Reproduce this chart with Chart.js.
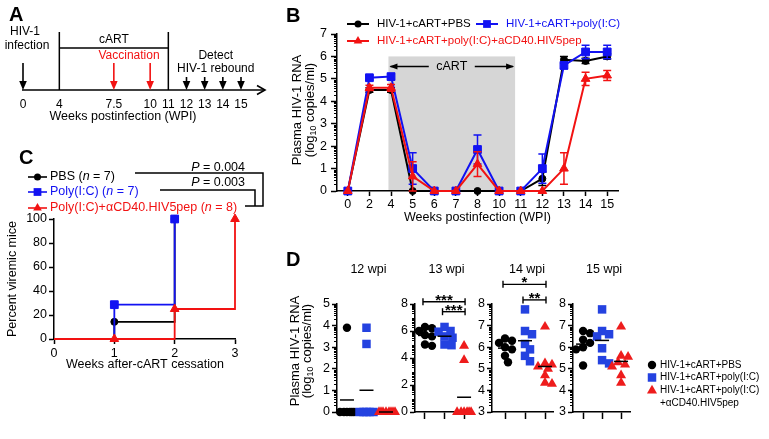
<!DOCTYPE html>
<html lang="en">
<head>
<meta charset="UTF-8" />
<title>HIV-1 rebound after cART</title>
<script src="https://cdn.jsdelivr.net/npm/chart.js"></script>
<style>
  body { margin: 0; background: #fff; }
  #stage { position: relative; width: 769px; height: 439px; overflow: hidden; background: #fff; }
  #stage canvas { position: absolute; left: 0; top: 0; }
</style>
</head>
<body>
<div id="stage">
  <canvas id="panelA" width="769" height="439"></canvas>
  <canvas id="panelB" width="769" height="439"></canvas>
  <canvas id="panelC" width="769" height="439"></canvas>
  <canvas id="panelD0" width="769" height="439"></canvas>
  <canvas id="panelD1" width="769" height="439"></canvas>
  <canvas id="panelD2" width="769" height="439"></canvas>
  <canvas id="panelD3" width="769" height="439"></canvas>
</div>
<script>
// ---- A: timeline (blank labels give the uneven spacing of the drawing)
const timelineTicks = ['0', '', '4', '', '', '7.5', '', '10', '11', '12', '13', '14', '15'];
const infectionWeek = '0';
const cartWeeks = ['4', '11'];
const vaccinationWeeks = ['7.5', '10'];
const detectWeeks = ['12', '13', '14', '15'];

// ---- B: plasma RNA (log10) by week, mean and SEM
const wpiLabels = ['0', '2', '4', '5', '6', '7', '8', '10', '11', '12', '13', '14', '15'];
const rnaPBS     = [0, 4.5, 4.5, 0, 0, 0, 0, 0, 0, 0.55, 5.85, 5.8, 6.0];
const rnaPBSErr  = [0, 0.1, 0.1, 0, 0, 0, 0, 0, 0, 0.3, 0.15, 0.12, 0.12];
const rnaPoly    = [0, 5.05, 5.1, 1.0, 0, 0, 1.85, 0, 0, 1.0, 5.6, 6.2, 6.2];
const rnaPolyErr = [0, 0.1, 0.12, 0.7, 0, 0, 0.65, 0, 0, 0.65, 0.15, 0.3, 0.3];
const rnaVacc    = [0, 4.6, 4.6, 0.65, 0, 0, 1.2, 0, 0, 0, 1.0, 5.0, 5.15];
const rnaVaccErr = [0, 0.12, 0.15, 0.65, 0, 0, 0.55, 0, 0, 0, 0.7, 0.3, 0.22];

// ---- C: percent viremic mice after cART stop
const afterWeeks = [0, 1, 2, 3];
const viremicPBS  = [0, 14.3, 100];
const viremicPoly = [0, 28.6, 100];
const viremicVacc = [0, 0, 25, 100];

// ---- D: individual mice, log10 copies/ml
const rna12PBS  = [3.9, 0, 0, 0, 0, 0, 0];
const rna12Poly = [3.9, 3.15, 0, 0, 0, 0, 0];
const rna12Vacc = [0, 0, 0, 0, 0, 0, 0, 0];
const rna13PBS  = [6.3, 6.2, 6.0, 5.7, 5.6, 5.0, 4.9];
const rna13Poly = [6.3, 6.0, 5.95, 5.6, 5.5, 5.0, 4.95];
const rna13Vacc = [4.9, 3.85, 0, 0, 0, 0, 0, 0];
const rna14PBS  = [6.4, 6.3, 6.2, 6.0, 5.9, 5.6, 5.3];
const rna14Poly = [7.75, 6.75, 6.6, 6.15, 5.9, 5.6, 5.35];
const rna14Vacc = [6.95, 5.25, 5.2, 5.1, 5.0, 4.7, 4.35, 4.3];
const rna15PBS  = [6.75, 6.65, 6.35, 6.2, 6.0, 5.9, 5.15];
const rna15Poly = [7.75, 6.75, 6.6, 6.5, 5.95, 5.4, 5.25];
const rna15Vacc = [6.95, 5.6, 5.55, 5.3, 5.2, 5.1, 4.7, 4.35];

const W = 769, H = 439;
const FONT = "'Liberation Sans', Arial, Helvetica, sans-serif";
const BLACK = '#000000', BLUE = '#1212f2', RED = '#f21212';
const DBLUE = '#2442e0', DRED = '#ee1c1c';

Chart.defaults.font.family = FONT;
Chart.defaults.font.size = 12;
Chart.defaults.color = '#000';
Chart.defaults.animation = false;

// fixed axis boxes so the plot areas land where the figure has them
// (tick labels are clipped to these boxes, so leave room for them)
const XH = 24, YW = 36;
const fitX = s => { s.height = XH; };
const fitY = s => { s.width = YW; };
function frame(left, top, right, bottom, yw = YW) {
	return { autoPadding: false, padding: { left: left - yw, top, right: W - right, bottom: H - bottom - XH } };
}
const quiet = { legend: { display: false }, tooltip: { enabled: false } };
const axisLine = { color: '#000', width: 1.5 };
const tickMarks = len => ({ drawOnChartArea: false, tickLength: len, tickColor: '#000', tickWidth: 1.5 });

function text(ctx, s, x, y, o = {}) {
	ctx.save();
	ctx.font = `${o.style || 'normal'} ${o.weight || 'normal'} ${o.size || 12}px ${FONT}`;
	ctx.fillStyle = o.color || '#000';
	ctx.textAlign = o.align || 'left';
	ctx.textBaseline = o.baseline || 'middle';
	ctx.translate(x, y);
	if (o.rot) ctx.rotate(o.rot);
	ctx.fillText(s, 0, 0);
	ctx.restore();
}

// several runs of text with their own style, one after another
function runs(ctx, parts, x, y, o = {}) {
	ctx.save();
	ctx.translate(x, y);
	if (o.rot) ctx.rotate(o.rot);
	ctx.textBaseline = 'middle';
	ctx.fillStyle = o.color || '#000';
	const fontOf = p => `${p.italic ? 'italic ' : ''}${p.size || o.size || 12}px ${FONT}`;
	let total = 0;
	parts.forEach(p => { ctx.font = fontOf(p); total += ctx.measureText(p.t).width; });
	let cx = o.align === 'center' ? -total / 2 : o.align === 'right' ? -total : 0;
	parts.forEach(p => {
		ctx.font = fontOf(p);
		ctx.fillText(p.t, cx, p.dy || 0);
		cx += ctx.measureText(p.t).width;
	});
	ctx.restore();
}

function marker(ctx, style, x, y, r, color) {
	ctx.save();
	ctx.fillStyle = color;
	ctx.beginPath();
	if (style === 'circle') ctx.arc(x, y, r, 0, Math.PI * 2);
	else if (style === 'rect') { const s = r * Math.SQRT1_2; ctx.rect(x - s, y - s, 2 * s, 2 * s); }
	else { ctx.moveTo(x, y - r); ctx.lineTo(x + r * 0.866, y + r / 2); ctx.lineTo(x - r * 0.866, y + r / 2); ctx.closePath(); }
	ctx.fill();
	ctx.restore();
}

function seg(ctx, pts, color = '#000', width = 1.5) {
	ctx.save();
	ctx.strokeStyle = color;
	ctx.lineWidth = width;
	ctx.beginPath();
	pts.forEach(([x, y], i) => (i ? ctx.lineTo(x, y) : ctx.moveTo(x, y)));
	ctx.stroke();
	ctx.restore();
}

function downArrow(ctx, x, y0, y1, color) {
	seg(ctx, [[x, y0], [x, y1 - 6]], color, 1.6);
	ctx.save();
	ctx.fillStyle = color;
	ctx.beginPath();
	ctx.moveTo(x, y1); ctx.lineTo(x - 3.8, y1 - 9); ctx.lineTo(x + 3.8, y1 - 9); ctx.closePath();
	ctx.fill();
	ctx.restore();
}

function panelLetter(ctx, s, x, y) {
	text(ctx, s, x, y, { size: 20, weight: 'bold', baseline: 'alphabetic' });
}

function rnaTitle(ctx, x1, x2, cy, size) {
	text(ctx, 'Plasma HIV-1 RNA', x1, cy, { rot: -Math.PI / 2, align: 'center', size });
	runs(ctx, [{ t: '(log' }, { t: '10', size: size * 0.68, dy: size * 0.3 }, { t: ' copies/ml)' }],
		x2, cy, { rot: -Math.PI / 2, align: 'center', size });
}

function logMinorTicks(chart, len) {
	const s = chart.scales.y, ctx = chart.ctx;
	const majors = s.ticks.map(t => t.value);
	ctx.save();
	ctx.strokeStyle = '#000';
	ctx.lineWidth = 1;
	ctx.beginPath();
	for (let i = Math.floor(s.min); i < s.max; i++) {
		for (let k = 1; k <= 9; k++) {
			const v = i + Math.log10(k);
			if (majors.includes(v)) continue;
			const y = Math.round(s.getPixelForValue(v)) + 0.5;
			ctx.moveTo(s.right - len, y);
			ctx.lineTo(s.right, y);
		}
	}
	ctx.stroke();
	ctx.restore();
}

// ================= A =================
const timelinePlugin = {
	id: 'timeline',
	afterDraw(chart) {
		const ctx = chart.ctx, x = chart.scales.x;
		const px = w => x.getPixelForValue(timelineTicks.indexOf(w));
		const base = chart.chartArea.bottom;
		panelLetter(ctx, 'A', 9, 21);
		// axis with open arrow head
		seg(ctx, [[px(infectionWeek) - 1, base], [265, base]], '#000', 1.6);
		seg(ctx, [[257, base - 4.5], [265, base], [257, base + 4.5]], '#000', 1.6);
		// infection
		downArrow(ctx, px(infectionWeek), 63, base, '#000');
		text(ctx, 'HIV-1', px(infectionWeek) + 2, 32, { align: 'center' });
		text(ctx, 'infection', px(infectionWeek) + 4, 46, { align: 'center' });
		// cART box
		const c0 = px(cartWeeks[0]), c1 = px(cartWeeks[1]);
		seg(ctx, [[c0, 32], [c0, base]]);
		seg(ctx, [[c1, 32], [c1, base]]);
		seg(ctx, [[c0, 48], [c1, 48]]);
		text(ctx, 'cART', (c0 + c1) / 2, 40, { align: 'center' });
		// vaccinations
		const v = vaccinationWeeks.map(px);
		v.forEach(xv => downArrow(ctx, xv, 63, base, RED));
		text(ctx, 'Vaccination', (v[0] + v[1]) / 2 - 3, 56, { align: 'center', color: RED });
		// rebound detection
		const d = detectWeeks.map(px);
		d.forEach(xd => downArrow(ctx, xd, 77, base, '#000'));
		const dm = (d[0] + d[d.length - 1]) / 2 + 2;
		text(ctx, 'Detect', dm, 56, { align: 'center' });
		text(ctx, 'HIV-1 rebound', dm, 69, { align: 'center' });
		text(ctx, 'Weeks postinfection (WPI)', 123, 117, { align: 'center', size: 12.5 });
	}
};

new Chart(document.getElementById('panelA'), {
	type: 'line',
	data: { labels: timelineTicks, datasets: [] },
	options: {
		responsive: false, events: [],
		layout: frame(23, 30, 241, 90, 0),
		plugins: quiet,
		scales: {
			x: {
				type: 'category', offset: false, afterFit: fitX,
				border: { display: false }, grid: { display: false, drawTicks: false },
				ticks: { autoSkip: false, maxRotation: 0, padding: 7, font: { size: 12 } }
			},
			y: { display: false, min: 0, max: 1 }
		}
	},
	plugins: [timelinePlugin]
});

// ================= B =================
const errorBars = {
	id: 'errorBars',
	beforeDatasetDraw(chart, args) {
		const ds = chart.data.datasets[args.index];
		if (!ds.err) return;
		const y = chart.scales.y, ctx = chart.ctx;
		ctx.save();
		ctx.strokeStyle = ds.borderColor;
		ctx.lineWidth = 1.5;
		ctx.beginPath();
		args.meta.data.forEach((pt, i) => {
			const e = ds.err[i];
			if (!e) return;
			const top = y.getPixelForValue(ds.data[i] + e);
			const bot = y.getPixelForValue(Math.max(0, ds.data[i] - e));
			ctx.moveTo(pt.x, top); ctx.lineTo(pt.x, bot);
			ctx.moveTo(pt.x - 4, top); ctx.lineTo(pt.x + 4, top);
			ctx.moveTo(pt.x - 4, bot); ctx.lineTo(pt.x + 4, bot);
		});
		ctx.stroke();
		ctx.restore();
	}
};

const rnaPanel = {
	id: 'rnaPanel',
	beforeDraw(chart) {
		const ctx = chart.ctx, x = chart.scales.x, y = chart.scales.y;
		// cART period: shaded from week 4 up to just before week 11
		const xa = x.getPixelForValue(wpiLabels.indexOf('4') - 0.12);
		const xb = x.getPixelForValue(wpiLabels.indexOf('11') - 0.26);
		const yt = y.getPixelForValue(6), yb = y.getPixelForValue(0);
		ctx.save();
		ctx.fillStyle = '#d6d6d6';
		ctx.fillRect(xa, yt, xb - xa, yb - yt);
		ctx.restore();
		const ya = y.getPixelForValue(5.55), xm = (xa + xb) / 2;
		seg(ctx, [[xa + 2, ya], [xm - 23, ya]], '#000', 1.3);
		seg(ctx, [[xm + 23, ya], [xb - 2, ya]], '#000', 1.3);
		ctx.save();
		ctx.fillStyle = '#000';
		ctx.beginPath();
		ctx.moveTo(xa + 1, ya); ctx.lineTo(xa + 9, ya - 3); ctx.lineTo(xa + 9, ya + 3); ctx.closePath();
		ctx.moveTo(xb - 1, ya); ctx.lineTo(xb - 9, ya - 3); ctx.lineTo(xb - 9, ya + 3); ctx.closePath();
		ctx.fill();
		ctx.restore();
		text(ctx, 'cART', xm, ya, { align: 'center', size: 12.5 });
	},
	afterDraw(chart) {
		const ctx = chart.ctx;
		panelLetter(ctx, 'B', 286, 22);
		logMinorTicks(chart, 3);
		const legend = [
			[BLACK, 'circle', 3.5, 347, 24, 'HIV-1+cART+PBS'],
			[BLUE, 'rect', 5.5, 476, 24, 'HIV-1+cART+poly(I:C)'],
			[RED, 'triangle', 5, 347, 41, 'HIV-1+cART+poly(I:C)+aCD40.HIV5pep']
		];
		legend.forEach(([c, st, r, x0, y0, label]) => {
			seg(ctx, [[x0, y0], [x0 + 22, y0]], c, 2);
			marker(ctx, st, x0 + 11, y0, r, c);
			text(ctx, label, x0 + 30, y0, { color: c, size: 11.5 });
		});
		rnaTitle(ctx, 297, 310, 110, 13);
		text(ctx, 'Weeks postinfection (WPI)', (chart.chartArea.left + chart.chartArea.right) / 2, 218,
			{ align: 'center', size: 12.5 });
	}
};

function rnaSeries(label, values, err, color, style, radius, order) {
	return {
		label, data: values, err, order,
		borderColor: color, backgroundColor: color, pointBackgroundColor: color, pointBorderColor: color,
		borderWidth: 2, pointStyle: style, pointRadius: radius, pointBorderWidth: 1,
		tension: 0, clip: false
	};
}

new Chart(document.getElementById('panelB'), {
	type: 'line',
	data: {
		labels: wpiLabels,
		datasets: [
			rnaSeries('HIV-1+cART+PBS', rnaPBS, rnaPBSErr, BLACK, 'circle', 3.5, 2),
			rnaSeries('HIV-1+cART+poly(I:C)', rnaPoly, rnaPolyErr, BLUE, 'rect', 5.5, 1),
			rnaSeries('HIV-1+cART+poly(I:C)+aCD40.HIV5pep', rnaVacc, rnaVaccErr, RED, 'triangle', 5, 0)
		]
	},
	options: {
		responsive: false, events: [],
		layout: frame(337, 34, 618, 191),
		plugins: quiet,
		scales: {
			x: {
				type: 'category', offset: true, afterFit: fitX,
				border: axisLine, grid: tickMarks(5),
				ticks: { autoSkip: false, maxRotation: 0, padding: 1, font: { size: 12.5 } }
			},
			y: {
				min: 0, max: 7, afterFit: fitY,
				border: axisLine, grid: tickMarks(6),
				ticks: { stepSize: 1, padding: 4, font: { size: 12.5 } }
			}
		}
	},
	plugins: [errorBars, rnaPanel]
});

// ================= C =================
const viremicPanel = {
	id: 'viremicPanel',
	afterDraw(chart) {
		const ctx = chart.ctx;
		panelLetter(ctx, 'C', 19, 164);
		const legend = [
			[BLACK, 'circle', 3.5, 177, [{ t: 'PBS (' }, { t: 'n', italic: true }, { t: ' = 7)' }]],
			[BLUE, 'rect', 5.5, 192, [{ t: 'Poly(I:C) (' }, { t: 'n', italic: true }, { t: ' = 7)' }]],
			[RED, 'triangle', 5, 208, [{ t: 'Poly(I:C)+αCD40.HIV5pep (' }, { t: 'n', italic: true }, { t: ' = 8)' }]]
		];
		legend.forEach(([c, st, r, y0, parts]) => {
			seg(ctx, [[28, y0], [47, y0]], c, 1.6);
			marker(ctx, st, 37.5, y0, r, c);
			runs(ctx, parts, 50, y0, { color: c, size: 12.5 });
		});
		seg(ctx, [[135, 173], [263, 173], [263, 206], [245, 206]]);
		seg(ctx, [[160, 190], [255, 190], [255, 206]]);
		runs(ctx, [{ t: 'P', italic: true }, { t: ' = 0.004' }], 245, 167.5, { align: 'right', size: 12.5 });
		runs(ctx, [{ t: 'P', italic: true }, { t: ' = 0.003' }], 245, 183, { align: 'right', size: 12.5 });
		text(ctx, 'Percent viremic mice', 13, 279, { rot: -Math.PI / 2, align: 'center', size: 12.5 });
		text(ctx, 'Weeks after-cART cessation', 145, 365, { align: 'center', size: 12.5 });
	}
};

function stepSeries(values, color, style, radius, order) {
	return {
		data: values.map((v, i) => ({ x: afterWeeks[i], y: v })), order,
		stepped: 'before', borderColor: color, backgroundColor: color,
		pointBackgroundColor: color, pointBorderColor: color, pointBorderWidth: 1,
		borderWidth: 1.8, pointStyle: style,
		pointRadius: c => (c.dataIndex === 0 ? 0 : radius), clip: false
	};
}

new Chart(document.getElementById('panelC'), {
	type: 'line',
	data: {
		datasets: [
			stepSeries(viremicPBS, BLACK, 'circle', 3.5, 2),
			stepSeries(viremicPoly, BLUE, 'rect', 5.5, 1),
			stepSeries(viremicVacc, RED, 'triangle', 5, 0)
		]
	},
	options: {
		responsive: false, events: [],
		layout: frame(54, 219, 235, 339),
		plugins: quiet,
		scales: {
			x: {
				type: 'linear', min: 0, max: 3, afterFit: fitX,
				border: axisLine, grid: tickMarks(5),
				ticks: { stepSize: 1, padding: 2, font: { size: 12.5 } }
			},
			y: {
				min: 0, max: 100, afterFit: fitY,
				border: axisLine, grid: tickMarks(5),
				ticks: { stepSize: 20, padding: 2, font: { size: 12.5 } }
			}
		}
	},
	plugins: [viremicPanel]
});

// ================= D =================
const dPanels = [
	{ title: '12 wpi', groups: [rna12PBS, rna12Poly, rna12Vacc], yMin: 0, yMax: 5, yTicks: [0, 1, 2, 3, 4, 5],
		left: 337, right: 395, xMin: -0.51, xMax: 2.46, xTicks: false, marks: [] },
	{ title: '13 wpi', groups: [rna13PBS, rna13Poly, rna13Vacc], yMin: 0, yMax: 8, yTicks: [0, 2, 4, 6, 8],
		left: 415, right: 467, xMin: -0.51, xMax: 2.15, xTicks: true,
		marks: [{ a: 0, b: 2, y: 8.17, label: '***' }, { a: 1, b: 2, y: 7.43, label: '***' }] },
	{ title: '14 wpi', groups: [rna14PBS, rna14Poly, rna14Vacc], yMin: 3, yMax: 8, yTicks: [3, 4, 5, 6, 7, 8],
		left: 492, right: 553, xMin: -0.65, xMax: 2.4, xTicks: true,
		marks: [{ a: 0, b: 2, y: 8.91, label: '*' }, { a: 1, b: 2, y: 8.19, label: '**' }] },
	{ title: '15 wpi', groups: [rna15PBS, rna15Poly, rna15Vacc], yMin: 3, yMax: 8, yTicks: [3, 4, 5, 6, 7, 8],
		left: 573, right: 630, xMin: -0.53, xMax: 2.47, xTicks: true, marks: [] }
];
const D_TOP = 304, D_BOTTOM = 412;
const dStyles = [
	{ color: BLACK, style: 'circle', r: 4.2 },
	{ color: DBLUE, style: 'rect', r: 6 },
	{ color: DRED, style: 'triangle', r: 5.8 }
];

// spread points sideways so they do not sit on top of each other (pixels)
function swarm(values, pxPerY, minDist = 7, spread = 9) {
	const placed = [];
	return values.map(v => {
		const py = v * pxPerY;
		let pick = 0, best = -1;
		for (let k = 0; k <= spread * 2; k++) {
			const dx = k % 2 ? (k + 1) / 2 : -k / 2;
			const d = placed.length ? Math.min(...placed.map(p => Math.hypot(dx - p.dx, py - p.py))) : Infinity;
			if (d >= minDist) { pick = dx; break; }
			if (d > best) { best = d; pick = dx; }
		}
		placed.push({ dx: pick, py });
		return pick;
	});
}
const mean = a => a.reduce((s, v) => s + v, 0) / a.length;

dPanels.forEach((p, n) => {
	const pxPerY = (D_BOTTOM - D_TOP) / (p.yMax - p.yMin);
	const pxPerX = (p.right - p.left) / (p.xMax - p.xMin);
	const datasets = p.groups.map((vals, g) => {
		const dx = swarm(vals, pxPerY);
		const st = dStyles[g];
		return {
			type: 'scatter', order: 3 - g,
			data: vals.map((v, i) => ({ x: g + dx[i] / pxPerX, y: v })),
			pointStyle: st.style, pointRadius: st.r, pointBorderWidth: 0,
			pointBackgroundColor: st.color, backgroundColor: st.color, borderColor: st.color, clip: false
		};
	});
	datasets.push({
		type: 'scatter', order: 0,
		data: p.groups.map((vals, g) => ({ x: g, y: mean(vals) })),
		pointStyle: 'line', pointRadius: 7, pointBorderWidth: 1.5, pointBorderColor: '#000', clip: false
	});

	const subPlugin = {
		id: 'sub' + n,
		afterDraw(chart) {
			const ctx = chart.ctx, x = chart.scales.x, y = chart.scales.y;
			logMinorTicks(chart, 3);
			text(ctx, p.title, x.getPixelForValue(1) + 2, 270, { align: 'center', size: 12.5 });
			p.marks.forEach(m => {
				const xa = x.getPixelForValue(m.a) - 2, xb = x.getPixelForValue(m.b) + 1;
				const ym = y.getPixelForValue(m.y);
				seg(ctx, [[xa, ym], [xb, ym]], '#000', 1.4);
				seg(ctx, [[xa, ym - 3.5], [xa, ym + 3.5]], '#000', 1.4);
				seg(ctx, [[xb, ym - 3.5], [xb, ym + 3.5]], '#000', 1.4);
				text(ctx, m.label, (xa + xb) / 2, ym + 3, { align: 'center', size: 15, weight: 'bold', baseline: 'alphabetic' });
			});
			if (n === 0) {
				panelLetter(ctx, 'D', 286, 266);
				rnaTitle(ctx, 295, 307, 351, 13);
			}
			if (n === dPanels.length - 1) {
				const legend = [
					[BLACK, 'circle', 4.2, 365, 'HIV-1+cART+PBS'],
					[DBLUE, 'rect', 6, 377.5, 'HIV-1+cART+poly(I:C)'],
					[DRED, 'triangle', 5.8, 390.5, 'HIV-1+cART+poly(I:C)']
				];
				legend.forEach(([c, st, r, y0, label]) => {
					marker(ctx, st, 652, y0, r, c);
					text(ctx, label, 660, y0, { size: 10 });
				});
				text(ctx, '+αCD40.HIV5pep', 660, 403.5, { size: 10 });
			}
		}
	};

	new Chart(document.getElementById('panelD' + n), {
		type: 'scatter',
		data: { datasets },
		options: {
			responsive: false, events: [],
			layout: frame(p.left, D_TOP, p.right, D_BOTTOM),
			plugins: quiet,
			scales: {
				x: {
					type: 'linear', min: p.xMin, max: p.xMax, afterFit: fitX,
					afterBuildTicks: s => { s.ticks = [0, 1, 2].map(value => ({ value })); },
					border: axisLine,
					grid: Object.assign(tickMarks(7), { drawTicks: p.xTicks }),
					ticks: { display: false }
				},
				y: {
					min: p.yMin, max: p.yMax, afterFit: fitY,
					afterBuildTicks: s => { s.ticks = p.yTicks.map(value => ({ value })); },
					border: axisLine, grid: tickMarks(5),
					ticks: { padding: 2, font: { size: 12.5 } }
				}
			}
		},
		plugins: [subPlugin]
	});
});
</script>
</body>
</html>
